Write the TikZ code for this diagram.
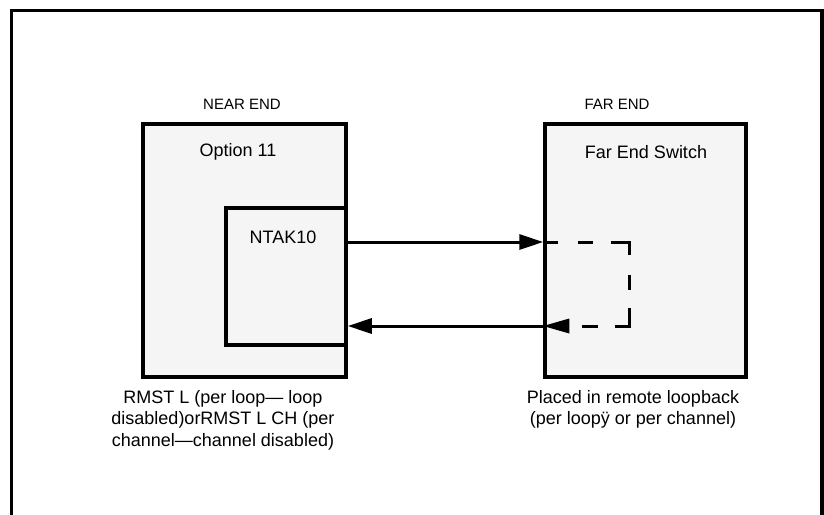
\documentclass[tikz,border=0pt]{standalone}
\usepackage{fontspec}
\setmainfont{Liberation Sans}
\usetikzlibrary{arrows.meta}
\definecolor{boxfill}{HTML}{F5F5F5}
\begin{document}
\begin{tikzpicture}[x=1pt,y=-1pt,
  boxstyle/.style={draw=black,line width=3.5pt,fill=boxfill,inner sep=0pt},
  title/.style={font=\fontsize{15}{21}\selectfont,inner sep=0pt},
  lbl/.style={font=\fontsize{18}{21.5}\selectfont,inner sep=0pt},
  conn/.style={line width=3pt,-{Triangle[length=24pt,width=15pt]}},
  dashconn/.style={line width=3pt,dash pattern=on 15pt off 20pt on 15pt off 18pt on 31pt off 20pt on 15pt off 18pt on 32pt off 17pt on 16pt off 200pt}]
\useasboundingbox (0,0) rectangle (824,514);
\fill[white] (0,0) rectangle (824,514);
% outer frame
\draw[line width=3.5pt] (11.5,520) -- (11.5,10.5) -- (822,10.5) -- (822,520);
% titles
\node[title] (near) at (242,104) {NEAR END};
\node[title] (far) at (617,104) {FAR END};
% boxes
\node[boxstyle,minimum width=203pt,minimum height=253pt] (opt) at (244.5,250.5) {};
\node[boxstyle,minimum width=120pt,minimum height=137pt] (ntak) at (286,276.5) {};
\node[boxstyle,minimum width=201pt,minimum height=253pt] (fes) at (645.5,250.5) {};
\node[lbl] (optlbl) at (238,152) {Option 11};
\node[lbl] (ntaklbl) at (283,237) {NTAK10};
\node[lbl] (feslbl) at (646,152) {Far End Switch};
% connector points
\coordinate (a1) at (ntak.east |- 0,242);
\coordinate (a2) at (fes.west |- 0,242);
\coordinate (b1) at (fes.west |- 0,326);
\coordinate (b2) at (ntak.east |- 0,326);
\coordinate (c1) at (629,242);
\coordinate (c2) at (629,326);
\draw[conn] (a1) -- (a2);
\draw[conn] (b1) -- (b2);
\draw[dashconn] (a2) -- (c1) -- (c2) -- ([xshift=20pt]b1);
\fill (b1) -- ([xshift=26pt,yshift=-7.5pt]b1) -- ([xshift=26pt,yshift=7.5pt]b1) -- cycle;
% notes
\node[lbl,align=center,anchor=north] (note1) at (223,390) {RMST L (per loop— loop\\disabled)orRMST L CH (per\\channel—channel disabled)};
\node[lbl,align=center,anchor=north] (note2) at (633,390) {Placed in remote loopback\\(per loopÿ or per channel)};
\end{tikzpicture}
\end{document}
